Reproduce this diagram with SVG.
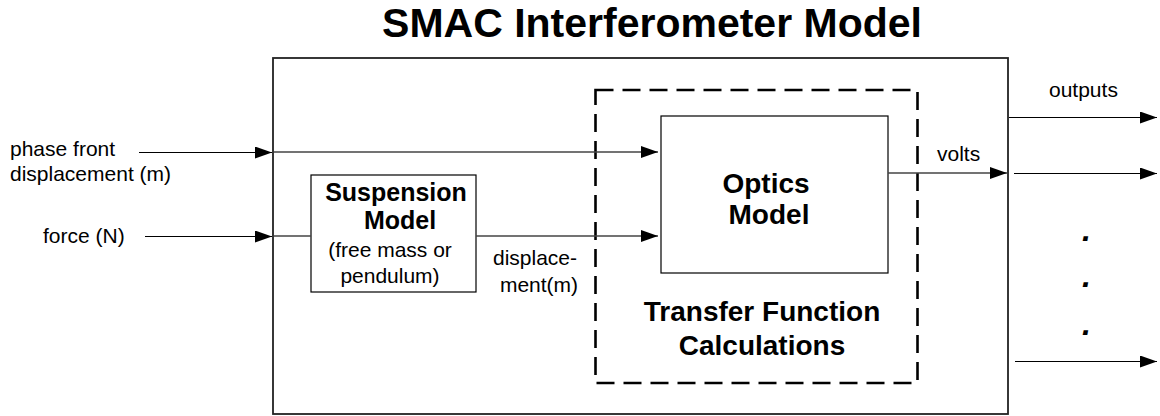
<svg xmlns="http://www.w3.org/2000/svg" width="1160" height="416" viewBox="0 0 1160 416">
  <defs>
    <marker id="arrow" markerWidth="17" markerHeight="12" refX="17" refY="6" orient="auto" markerUnits="userSpaceOnUse">
      <path d="M0,0 L17,6 L0,12 Z" fill="#000"/>
    </marker>
    <style>
      .bold { font-family: "Liberation Sans", Arial, sans-serif; font-weight: bold; fill: #000; text-anchor: middle; }
      .label { font-family: "Liberation Sans", Arial, sans-serif; font-size: 21px; fill: #000; }
      .box { fill: #fff; stroke: #000; stroke-width: 1.2; }
      .wire { fill: none; stroke: #000; stroke-width: 1; }
      .inner { fill: none; stroke: #444; stroke-width: 1.3; }
      .dot { font-family: "Liberation Sans", Arial, sans-serif; font-weight: bold; font-style: italic; font-size: 32px; fill: #000; }
    </style>
  </defs>

  <rect width="1160" height="416" fill="#fff"/>

  <!-- title -->
  <text class="bold" x="652" y="37" font-size="41">SMAC Interferometer Model</text>

  <!-- outer model boundary -->
  <g id="interferometer">
    <rect x="273" y="58" width="735" height="356" fill="none" stroke="#222" stroke-width="1.8"/>
  </g>

  <!-- transfer function region -->
  <g id="transfer-function">
    <rect x="595.5" y="90" width="322" height="293" fill="none" stroke="#000" stroke-width="2.6" stroke-dasharray="18 9"/>
    <text class="bold" x="762" y="321" font-size="28">Transfer Function</text>
    <text class="bold" x="762" y="355" font-size="28">Calculations</text>
  </g>

  <!-- suspension block -->
  <g id="suspension">
    <rect class="box" x="311" y="175" width="165" height="117"/>
    <text class="bold" x="396" y="201" font-size="25">Suspension</text>
    <text class="bold" x="400" y="229" font-size="25">Model</text>
    <text class="label" x="390" y="257" text-anchor="middle">(free mass or</text>
    <text class="label" x="390" y="283" text-anchor="middle">pendulum)</text>
  </g>

  <!-- optics block -->
  <g id="optics">
    <rect class="box" x="661" y="116" width="227" height="157"/>
    <text class="bold" x="766" y="193" font-size="28">Optics</text>
    <text class="bold" x="769" y="224" font-size="28">Model</text>
  </g>

  <!-- connectors -->
  <g id="connectors">
    <line class="wire" x1="139" y1="152.5" x2="272" y2="152.5" marker-end="url(#arrow)"/>
    <line class="inner" x1="274" y1="152" x2="658" y2="152" marker-end="url(#arrow)"/>
    <line class="wire" x1="145" y1="236.5" x2="272" y2="236.5" marker-end="url(#arrow)"/>
    <line class="inner" x1="274" y1="236" x2="311" y2="236"/>
    <line class="inner" x1="476" y1="236" x2="658" y2="236" marker-end="url(#arrow)"/>
    <line class="inner" x1="888" y1="173" x2="1007" y2="173" marker-end="url(#arrow)"/>
    <line class="wire" x1="1009" y1="117.5" x2="1157" y2="117.5" marker-end="url(#arrow)"/>
    <line class="wire" x1="1014" y1="173.5" x2="1157" y2="173.5" marker-end="url(#arrow)"/>
    <line class="wire" x1="1015" y1="361.5" x2="1157" y2="361.5" marker-end="url(#arrow)"/>
  </g>

  <!-- signal labels -->
  <g id="labels">
    <text class="label" x="10" y="156">phase front</text>
    <text class="label" x="10" y="181">displacement (m)</text>
    <text class="label" x="43" y="243">force (N)</text>
    <text class="label" x="535" y="265" text-anchor="middle">displace-</text>
    <text class="label" x="539" y="292" text-anchor="middle">ment(m)</text>
    <text class="label" x="937" y="161">volts</text>
    <text class="label" x="1049" y="97">outputs</text>
  </g>

  <!-- continuation marks for further outputs -->
  <g id="ellipsis">
    <text class="dot" x="1082" y="241">.</text>
    <text class="dot" x="1082" y="287">.</text>
    <text class="dot" x="1082" y="335">.</text>
  </g>
</svg>
